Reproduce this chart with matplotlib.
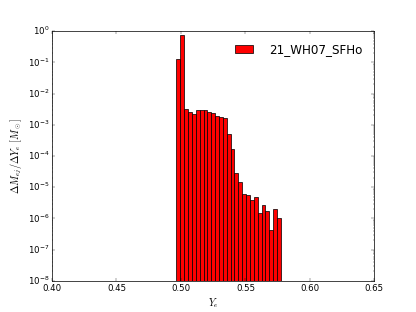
import numpy as np
import matplotlib
matplotlib.use('Agg')
import matplotlib.pyplot as plt

plt.style.use('classic')

# bin layout of the Ye histogram
ye_start = 0.4965
bin_width = 0.003

# dM_ej/dYe per bin [Msun]
dm_dye = [1.33e-1, 7.4e-1, 3.3e-3, 2.5e-3, 2.27e-3, 2.9e-3, 2.9e-3, 2.9e-3,
          2.55e-3, 2.32e-3, 1.9e-3, 1.77e-3, 1.69e-3, 5.16e-4, 1.68e-4,
          2.85e-5, 1.46e-5, 6.24e-6, 5.66e-6, 3.8e-6, 4.82e-6, 1.5e-6,
          2.77e-6, 1.77e-6, 4.35e-7, 2.01e-6, 1.0e-6]
label = '21_WH07_SFHo'

left_edges = ye_start + bin_width * np.arange(len(dm_dye))

fig = plt.figure(figsize=(8, 6), dpi=52)
fig.patch.set_facecolor('white')
ax = fig.add_subplot(111)
ax.bar(left_edges, dm_dye, width=bin_width, align='edge', color='red',
       edgecolor='black', label=label, log=True)
ax.set_yscale('log')
ax.set_xlim(0.40, 0.65)
ax.set_ylim(1e-8, 1)
ax.set_xlabel(r'$Y_e$', fontsize=14)
ax.set_ylabel(r'$\Delta M_{ej}/\Delta Y_e\ [M_\odot]$', fontsize=14)
ax.legend(loc='upper right', frameon=False, handlelength=1.5,
          handletextpad=1.35, fontsize=16.4, borderaxespad=0.6)

fig.savefig('out.png', dpi=52, facecolor='white')
